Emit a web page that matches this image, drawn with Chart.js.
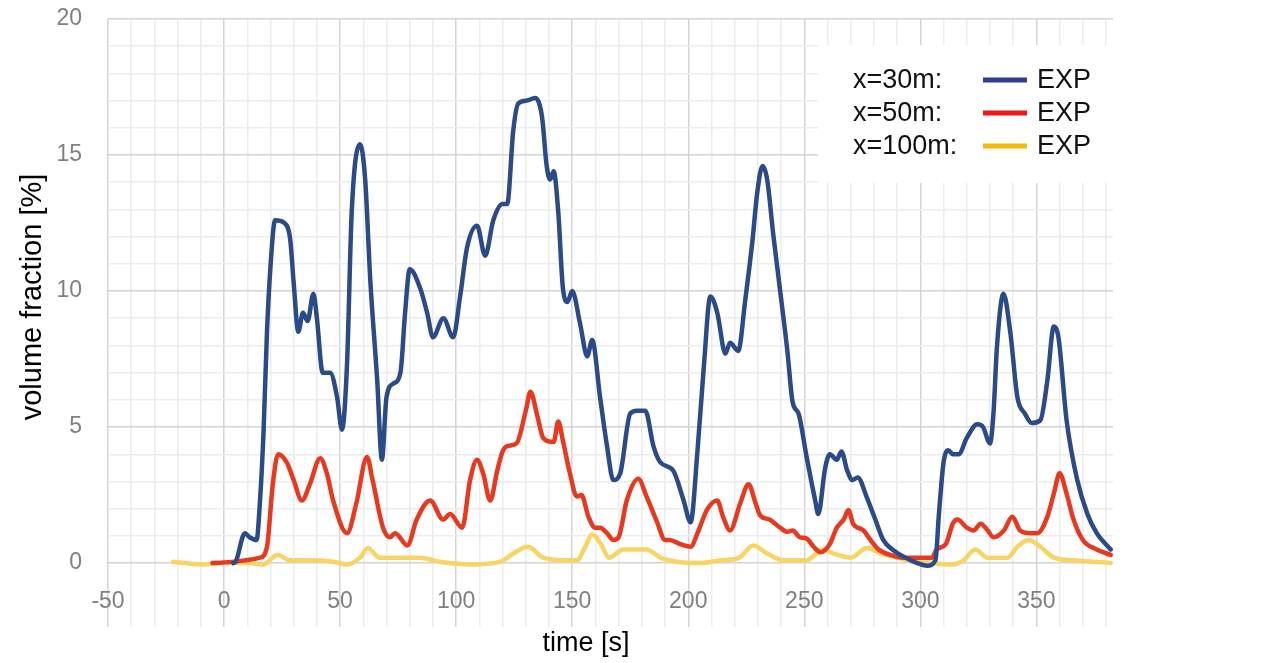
<!DOCTYPE html>
<html>
<head>
<meta charset="utf-8">
<title>volume fraction</title>
<script src="https://cdn.jsdelivr.net/npm/chart.js@4.4.1/dist/chart.umd.min.js"></script>
<style>
  html, body { margin: 0; padding: 0; background: #fff; }
  #wrap { width: 1286px; height: 663px; }
</style>
</head>
<body>
<div id="wrap"><canvas id="chart" width="1286" height="663"></canvas></div>
<script>
// measured series, time [s] against volume fraction [%]
var blueT = [4, 5, 9, 11, 14, 15.5, 17, 18.5, 20, 22, 26, 28.5, 30, 32, 34, 36, 38.5, 40, 42.5, 45.7,
  48.7, 50.8, 53, 55, 58.6, 60.8, 63, 66, 68, 70, 73, 76, 78, 80, 84.5, 87.5, 90, 94.5, 98.7, 101.7,
  104.7, 109, 112.5, 116, 120, 122, 124.6, 126.8, 130.5, 134, 137, 139, 140.5, 142, 144, 146, 148, 150, 153.4, 156.5,
  158.6, 162, 165, 167.7, 170.7, 175, 178, 181.5, 185, 188, 193.5, 198, 201, 204, 206.7, 209.5, 212.5, 216, 218, 221.5,
  224.6, 227.6, 229.7, 232, 234, 236.6, 239.6, 242.7, 245, 247.5, 251, 254.7, 256, 259, 261, 264, 266, 268.5, 270.7, 273,
  277, 280.6, 284, 288, 293.5, 298.7, 303, 306.5, 308, 310, 312, 314, 316.5, 320, 324.5, 327, 330, 331.5, 333, 335.8,
  338.8, 341.8, 345, 348, 351.7, 354.7, 357.5, 359.5, 363, 367.6, 372, 376, 382];
var blueV = [0, 0.05, 1.1, 0.95, 0.85, 2.3, 4.8, 8.5, 10.9, 12.6, 12.5, 11.9, 10.3, 8.5, 9.2, 8.9, 9.9, 9.0, 7.0, 7.0,
  6.1, 4.9, 7.35, 12.9, 15.4, 14.1, 10.4, 6.7, 3.8, 6.1, 6.6, 7.0, 9.2, 10.8, 10.1, 9.2, 8.3, 9.0, 8.3, 9.8,
  11.6, 12.4, 11.3, 12.6, 13.2, 13.2, 15.9, 16.9, 17.0, 17.1, 16.4, 14.6, 14.1, 14.4, 12.9, 10.1, 9.6, 10.0, 8.8, 7.6,
  8.2, 6.1, 4.3, 3.05, 3.3, 5.5, 5.6, 5.6, 4.3, 3.7, 3.4, 2.3, 1.5, 4.15, 7.2, 9.8, 9.2, 7.7, 8.1, 7.8,
  9.7, 11.8, 13.6, 14.6, 14.1, 12.1, 10.0, 7.8, 5.9, 5.5, 3.9, 2.3, 1.8, 3.5, 4.0, 3.8, 4.1, 3.4, 3.05, 3.15,
  2.4, 1.6, 0.85, 0.5, 0.2, 0.0, -0.1, 0.1, 1.8, 3.7, 4.15, 4.0, 4.0, 4.6, 5.1, 5.0, 4.4, 5.5, 7.95, 9.9,
  8.45, 6.1, 5.5, 5.15, 5.25, 6.7, 8.7, 8.3, 5.25, 3.05, 1.8, 1.1, 0.5];

var redT = [-5, 15.5, 18.5, 21, 23.3, 27, 30, 33.5, 37, 41.4, 44.3, 47, 53, 57, 61.6, 64, 68.5, 71.5, 73.7, 79,
  83, 88.8, 94.4, 97.4, 102.6, 106, 109, 111.6, 114.7, 117.7, 120, 122, 126, 130, 132, 135, 137.5, 142, 144, 146,
  149, 152, 154, 157, 160, 162, 165, 167.7, 170, 173.5, 178.5, 182, 186.6, 190, 192, 196.5, 201, 204, 208, 212.5,
  215, 218, 222.4, 226, 229, 231, 235, 239.6, 242.7, 245, 248, 251, 254, 257, 261, 264, 267, 269, 271, 275.5,
  278.5, 282, 287, 292.7, 300, 305, 307, 311, 314, 316, 320, 323, 326, 329, 331.5, 336, 339.6, 343, 347.5, 350.4,
  354.7, 357.5, 360, 363, 366, 370, 376, 382];
var redV = [0, 0.2, 0.6, 2.9, 4.0, 3.7, 3.05, 2.3, 2.9, 3.85, 3.3, 2.3, 1.1, 2.2, 3.9, 3.05, 1.3, 0.95, 1.1, 0.65,
  1.6, 2.3, 1.6, 1.8, 1.3, 3.05, 3.8, 3.3, 2.3, 3.4, 4.1, 4.3, 4.4, 5.6, 6.3, 5.4, 4.6, 4.45, 5.2, 4.5,
  3.3, 2.45, 2.5, 1.7, 1.3, 1.3, 1.1, 0.85, 0.95, 2.3, 3.1, 2.45, 1.5, 0.85, 0.85, 0.7, 0.6, 1.1, 1.95, 2.3,
  1.7, 1.2, 2.2, 2.9, 2.2, 1.75, 1.6, 1.3, 1.15, 1.2, 0.95, 0.9, 0.6, 0.4, 0.7, 1.3, 1.6, 1.95, 1.45, 1.2,
  0.85, 0.5, 0.3, 0.2, 0.2, 0.2, 0.5, 0.7, 1.45, 1.6, 1.3, 1.2, 1.45, 1.2, 0.95, 1.2, 1.7, 1.2, 1.1, 1.1,
  1.7, 2.55, 3.3, 2.55, 1.6, 0.85, 0.5, 0.3];

var yelT = [-22, -10, 0, 10, 17, 23, 28.5, 35, 47, 53, 58.6, 62, 67, 76, 84.5, 93, 107, 119, 124.6, 131,
  137.5, 148, 152, 155.6, 158.6, 162, 166, 172, 182, 188, 195, 205, 214, 222, 228, 234, 241, 251, 258, 262.5,
  270, 277, 283, 290, 297, 304, 314, 318.5, 323.7, 329, 337.5, 341.8, 346.6, 351.7, 357.5, 366, 374.6, 382];
var yelV = [0.05, -0.05, 0, 0, -0.05, 0.3, 0.1, 0.1, 0.05, -0.05, 0.2, 0.55, 0.2, 0.2, 0.2, 0.05, -0.05, 0.05, 0.35, 0.6,
  0.2, 0.1, 0.1, 0.6, 1.05, 0.75, 0.2, 0.5, 0.5, 0.2, 0.05, 0.0, 0.1, 0.2, 0.65, 0.35, 0.1, 0.1, 0.5, 0.35,
  0.2, 0.55, 0.35, 0.2, 0.05, 0.0, -0.05, 0.1, 0.5, 0.2, 0.2, 0.6, 0.85, 0.6, 0.2, 0.1, 0.05, 0.0];

var seriesNames = ['x=30m:', 'x=50m:', 'x=100m:'];
var seriesLabel = 'EXP';

function toPoints(ts, vs) {
  var pts = [];
  for (var i = 0; i < ts.length; i++) {
    pts.push({ x: ts[i], y: vs[i] });
  }
  return pts;
}

var fontFamily = "'Liberation Sans', Arial, sans-serif";
var lineColors = ['#2b4a88', '#e8381f', '#f7d463'];
var keyColors = ['#2f3c8f', '#ee1717', '#f6b80a'];

// titles and the key box are drawn by hand
var decorations = {
  id: 'decorations',
  beforeDatasetsDraw: function (chart) {
    var ctx = chart.ctx;
    ctx.save();
    ctx.fillStyle = '#ffffff';
    ctx.fillRect(818, 45, 295, 138);
    var rows = [80, 113, 146];
    ctx.font = '27px ' + fontFamily;
    ctx.textBaseline = 'middle';
    for (var i = 0; i < rows.length; i++) {
      ctx.fillStyle = '#111';
      ctx.textAlign = 'left';
      ctx.fillText(seriesNames[i], 853, rows[i] + 1);
      ctx.fillText(seriesLabel, 1037, rows[i] + 1);
      ctx.strokeStyle = keyColors[i];
      ctx.lineWidth = 5;
      ctx.beginPath();
      ctx.moveTo(983, rows[i]);
      ctx.lineTo(1027, rows[i]);
      ctx.stroke();
    }
    ctx.restore();
  },
  afterDraw: function (chart) {
    var ctx = chart.ctx;
    ctx.save();
    ctx.fillStyle = '#000';
    ctx.textAlign = 'center';
    ctx.textBaseline = 'middle';
    ctx.font = '27px ' + fontFamily;
    ctx.fillText('time [s]', 586, 644);
    ctx.font = '29px ' + fontFamily;
    ctx.translate(33, 297);
    ctx.rotate(-Math.PI / 2);
    ctx.fillText('volume fraction [%]', 0, 0);
    ctx.restore();
  }
};

var ctx = document.getElementById('chart').getContext('2d');
var chart = new Chart(ctx, {
  type: 'line',
  data: {
    datasets: [
      { label: seriesNames[0], data: toPoints(blueT, blueV), borderColor: lineColors[0] },
      { label: seriesNames[1], data: toPoints(redT, redV), borderColor: lineColors[1] },
      { label: seriesNames[2], data: toPoints(yelT, yelV), borderColor: lineColors[2] }
    ]
  },
  options: {
    responsive: false,
    devicePixelRatio: 1,
    animation: false,
    layout: { padding: { top: 19, right: 173, left: 0, bottom: 36 } },
    elements: {
      point: { radius: 0 },
      line: { borderWidth: 4.5, cubicInterpolationMode: 'monotone', borderCapStyle: 'round', borderJoinStyle: 'round' }
    },
    plugins: { legend: { display: false }, tooltip: { enabled: false } },
    scales: {
      x: {
        type: 'linear',
        position: { y: 0 },
        min: -50,
        max: 383,
        border: { display: false },
        grid: {
          drawTicks: false,
          lineWidth: 1.5,
          color: function (c) {
            var v = c.tick.value;
            if (v % 50 === 0) return '#d4d4d4';
            return '#ececec';
          }
        },
        ticks: {
          stepSize: 10,
          includeBounds: false,
          autoSkip: false,
          maxRotation: 0,
          padding: 25,
          color: '#808080',
          font: { size: 23, family: fontFamily },
          callback: function (v) { return v % 50 === 0 ? v : ''; }
        },
        afterFit: function (s) { s.paddingLeft = 0; s.paddingRight = 0; }
      },
      y: {
        min: -2.35,
        max: 20,
        border: { display: false },
        grid: {
          drawTicks: false,
          lineWidth: 1.5,
          color: function (c) {
            var v = c.tick.value;
            if (v < 0) return 'rgba(0,0,0,0)';
            if (v % 5 === 0) return '#d4d4d4';
            return '#ececec';
          }
        },
        ticks: {
          stepSize: 1,
          includeBounds: false,
          autoSkip: false,
          padding: 26,
          color: '#808080',
          font: { size: 23, family: fontFamily },
          callback: function (v) { return (v >= 0 && v % 5 === 0) ? v : ''; }
        },
        afterFit: function (s) { s.width = 108; s.paddingTop = 0; s.paddingBottom = 0; }
      }
    }
  },
  plugins: [decorations]
});
</script>
</body>
</html>
